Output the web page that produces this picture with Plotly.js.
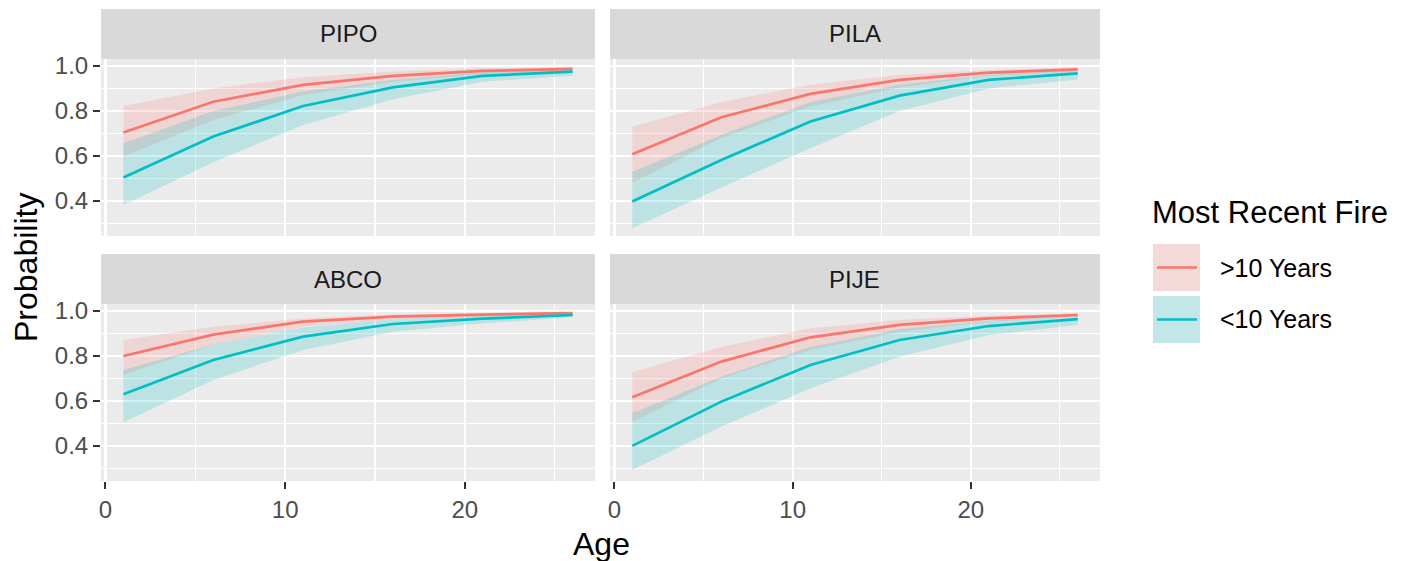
<!DOCTYPE html>
<html>
<head>
<meta charset="utf-8">
<script src="https://cdn.plot.ly/plotly-3.0.1.min.js"></script>
<style>html,body{margin:0;padding:0;background:#fff;}#chart{width:1418px;height:561px;}</style>
</head>
<body>
<div id="chart"></div>
<script>
// ---- data ----
const age = [1, 6, 11, 16, 21, 26];
const panels = ["PIPO", "PILA", "ABCO", "PIJE"];
const groups = [">10 Years", "<10 Years"];

const pipo_old_fit = [0.704, 0.841, 0.916, 0.956, 0.978, 0.987];
const pipo_old_lo  = [0.597, 0.760, 0.871, 0.930, 0.964, 0.979];
const pipo_old_hi  = [0.822, 0.900, 0.950, 0.975, 0.990, 0.994];
const pipo_new_fit = [0.504, 0.686, 0.822, 0.905, 0.956, 0.975];
const pipo_new_lo  = [0.382, 0.572, 0.738, 0.852, 0.930, 0.957];
const pipo_new_hi  = [0.656, 0.800, 0.886, 0.938, 0.972, 0.985];

const pila_old_fit = [0.607, 0.772, 0.876, 0.938, 0.970, 0.985];
const pila_old_lo  = [0.481, 0.680, 0.820, 0.905, 0.956, 0.975];
const pila_old_hi  = [0.730, 0.840, 0.916, 0.960, 0.982, 0.993];
const pila_new_fit = [0.397, 0.582, 0.753, 0.868, 0.938, 0.967];
const pila_new_lo  = [0.279, 0.460, 0.634, 0.800, 0.900, 0.940];
const pila_new_hi  = [0.530, 0.693, 0.840, 0.916, 0.960, 0.982];

const abco_old_fit = [0.800, 0.895, 0.953, 0.975, 0.984, 0.990];
const abco_old_lo  = [0.716, 0.849, 0.930, 0.963, 0.976, 0.985];
const abco_old_hi  = [0.871, 0.930, 0.967, 0.984, 0.990, 0.994];
const abco_new_fit = [0.630, 0.782, 0.886, 0.942, 0.966, 0.982];
const abco_new_lo  = [0.505, 0.693, 0.827, 0.908, 0.945, 0.972];
const abco_new_hi  = [0.738, 0.850, 0.927, 0.963, 0.978, 0.990];

const pije_old_fit = [0.616, 0.775, 0.883, 0.938, 0.967, 0.982];
const pije_old_lo  = [0.508, 0.700, 0.827, 0.908, 0.953, 0.975];
const pije_old_hi  = [0.727, 0.840, 0.923, 0.960, 0.979, 0.990];
const pije_new_fit = [0.400, 0.597, 0.760, 0.871, 0.933, 0.964];
const pije_new_lo  = [0.293, 0.486, 0.656, 0.797, 0.893, 0.938];
const pije_new_hi  = [0.545, 0.708, 0.840, 0.919, 0.957, 0.978];

const xTicks = [0, 10, 20];
const yTicks = [0.4, 0.6, 0.8, 1.0];

// ---- styling ----
const W = 1418, H = 561;
const colors = ["#F8766D", "#00BFC4"];
const fills = ["rgba(248,118,109,0.2)", "rgba(0,191,196,0.2)"];
const FONT = "Liberation Sans, Arial, sans-serif";

const seriesData = {
  PIPO: [[pipo_old_fit, pipo_old_lo, pipo_old_hi], [pipo_new_fit, pipo_new_lo, pipo_new_hi]],
  PILA: [[pila_old_fit, pila_old_lo, pila_old_hi], [pila_new_fit, pila_new_lo, pila_new_hi]],
  ABCO: [[abco_old_fit, abco_old_lo, abco_old_hi], [abco_new_fit, abco_new_lo, abco_new_hi]],
  PIJE: [[pije_old_fit, pije_old_lo, pije_old_hi], [pije_new_fit, pije_new_lo, pije_new_hi]]
};

// panel pixel boxes
const colX = [[101, 595], [610, 1100]];
const rowY = [[59, 236], [304, 481]];
const stripH = 50;

const px = v => v / W;
const py = v => 1 - v / H;

const traces = [];
const layout = {
  width: W, height: H,
  margin: {l: 0, r: 0, t: 0, b: 0},
  paper_bgcolor: "#FFFFFF",
  plot_bgcolor: "#EBEBEB",
  showlegend: false,
  font: {family: FONT, color: "#4D4D4D"},
  shapes: [],
  annotations: []
};

panels.forEach((name, i) => {
  const r = Math.floor(i / 2), c = i % 2;
  const n = i + 1;
  const xa = "x" + (n === 1 ? "" : n), ya = "y" + (n === 1 ? "" : n);
  const xKey = "xaxis" + (n === 1 ? "" : n), yKey = "yaxis" + (n === 1 ? "" : n);
  const bottom = r === 1, left = c === 0;

  layout[xKey] = {
    domain: [px(colX[c][0]), px(colX[c][1])],
    anchor: ya,
    range: [-0.25, 27.25],
    tickvals: xTicks,
    showticklabels: bottom,
    ticks: bottom ? "outside" : "",
    ticklen: 7, tickwidth: 2, tickcolor: "#333333",
    tickfont: {size: 24, color: "#4D4D4D", family: FONT},
    showgrid: true, gridcolor: "#FFFFFF", gridwidth: 2.2,
    minor: {tickvals: [5, 15, 25], showgrid: true, gridcolor: "#FFFFFF", gridwidth: 1.1, ticks: ""},
    zeroline: false, showline: false, fixedrange: true
  };
  layout[yKey] = {
    domain: [py(rowY[r][1]), py(rowY[r][0])],
    anchor: xa,
    range: [0.244, 1.031],
    tickvals: yTicks,
    ticktext: yTicks.map(v => v.toFixed(1)),
    showticklabels: left,
    ticks: left ? "outside" : "",
    ticklen: 7, tickwidth: 2, tickcolor: "#333333",
    tickfont: {size: 24, color: "#4D4D4D", family: FONT},
    showgrid: true, gridcolor: "#FFFFFF", gridwidth: 2.2,
    minor: {tickvals: [0.3, 0.5, 0.7, 0.9], showgrid: true, gridcolor: "#FFFFFF", gridwidth: 1.1, ticks: ""},
    zeroline: false, showline: false, fixedrange: true
  };

  // strip
  layout.shapes.push({
    type: "rect", xref: "paper", yref: "paper",
    x0: px(colX[c][0]), x1: px(colX[c][1]),
    y0: py(rowY[r][0]), y1: py(rowY[r][0] - stripH),
    fillcolor: "#D9D9D9", line: {width: 0}, layer: "below"
  });
  layout.annotations.push({
    xref: "paper", yref: "paper",
    x: px((colX[c][0] + colX[c][1]) / 2), y: py(rowY[r][0] - stripH / 2),
    text: name, showarrow: false, xanchor: "center", yanchor: "middle",
    font: {size: 24, color: "#1A1A1A", family: FONT}
  });

  const d = seriesData[name];
  // ribbons
  d.forEach((s, g) => {
    traces.push({x: age, y: s[1], xaxis: xa, yaxis: ya, type: "scatter", mode: "lines",
      line: {width: 0, color: "rgba(0,0,0,0)"}, hoverinfo: "skip", showlegend: false});
    traces.push({x: age, y: s[2], xaxis: xa, yaxis: ya, type: "scatter", mode: "lines",
      line: {width: 0, color: "rgba(0,0,0,0)"}, fill: "tonexty", fillcolor: fills[g],
      hoverinfo: "skip", showlegend: false});
  });
  // lines
  d.forEach((s, g) => {
    traces.push({x: age, y: s[0], xaxis: xa, yaxis: ya, type: "scatter", mode: "lines",
      name: groups[g], line: {width: 2.7, color: colors[g]}, showlegend: false});
  });
});

// axis titles
layout.annotations.push({
  xref: "paper", yref: "paper", x: px(26), y: py(268),
  text: "Probability", textangle: -90, showarrow: false,
  xanchor: "center", yanchor: "middle", font: {size: 32, color: "#000000", family: FONT}
});
layout.annotations.push({
  xref: "paper", yref: "paper", x: px(601), y: py(544),
  text: "Age", showarrow: false,
  xanchor: "center", yanchor: "middle", font: {size: 32, color: "#000000", family: FONT}
});

// legend (manual, ggplot style)
layout.annotations.push({
  xref: "paper", yref: "paper", x: px(1150), y: py(213),
  text: "Most Recent Fire", showarrow: false,
  xanchor: "left", yanchor: "middle", font: {size: 31, color: "#000000", family: FONT}
});
const keyTop = [244, 296];
groups.forEach((g, k) => {
  const t = keyTop[k], b = t + 47;
  layout.shapes.push({type: "rect", xref: "paper", yref: "paper",
    x0: px(1153), x1: px(1200), y0: py(b), y1: py(t),
    fillcolor: "#F2F2F2", line: {width: 0}});
  layout.shapes.push({type: "rect", xref: "paper", yref: "paper",
    x0: px(1153), x1: px(1200), y0: py(b), y1: py(t),
    fillcolor: fills[k], line: {width: 0}});
  layout.shapes.push({type: "line", xref: "paper", yref: "paper",
    x0: px(1157), x1: px(1197), y0: py((t + b) / 2), y1: py((t + b) / 2),
    line: {color: colors[k], width: 2.7}});
  layout.annotations.push({
    xref: "paper", yref: "paper", x: px(1218), y: py((t + b) / 2),
    text: g, showarrow: false, xanchor: "left", yanchor: "middle",
    font: {size: 25, color: "#000000", family: FONT}
  });
});

Plotly.newPlot("chart", traces, layout, {staticPlot: true, displayModeBar: false});
</script>
</body>
</html>
